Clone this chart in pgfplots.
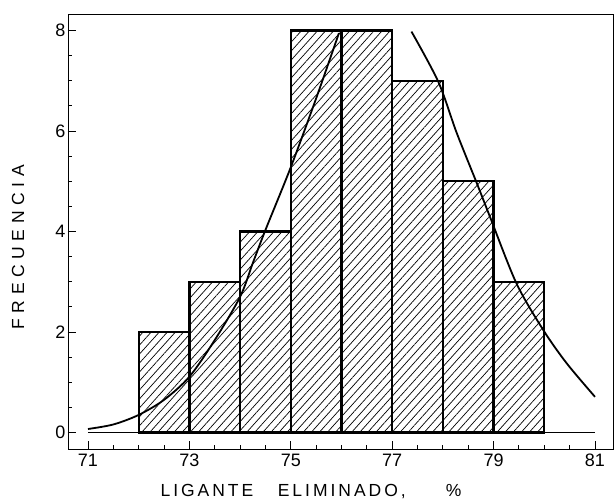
\documentclass[border=0pt]{standalone}
\usepackage{fontspec}
\setmainfont{Liberation Sans}
\newfontfamily\xlabfont[LetterSpace=17]{Liberation Sans}
\newfontfamily\ylabfont[LetterSpace=32]{Liberation Sans}
\usepackage{pgfplots}
\pgfplotsset{compat=1.18}
\usetikzlibrary{patterns.meta}

\begin{document}
\begin{tikzpicture}
\useasboundingbox (-68pt,-50.7pt) rectangle (546pt,449.3pt);
\begin{axis}[
  scale only axis, width=545pt, height=435.3pt,
  at={(0,0)}, anchor=south west,
  xmin=70.606, xmax=81.355, ymin=-0.334, ymax=8.33,
  axis line style={line width=0.9pt},
  xtick={71,73,...,81}, minor xtick={71,71.5,...,81},
  ytick={0,2,...,8}, minor ytick={0,0.5,...,8},
  xtick pos=bottom, ytick pos=left,
  tick align=inside,
  major tick length=8.5pt, minor tick length=4.5pt,
  tick style={line width=0.9pt, black},
  /pgf/number format/assume math mode=true,
  ticklabel style={font=\fontsize{18}{18}\selectfont},
  xticklabel style={yshift=-1pt},
  yticklabel style={xshift=1pt},
  xlabel={\xlabfont LIGANTE\hspace{1.4em}ELIMINADO,\hspace{2.3em}\%},
  xlabel style={at={(axis description cs:0.446,-0.0965)}, anchor=center,
    font=\fontsize{17.5}{17.5}\selectfont},
  ylabel={\ylabfont FRECUENCIA},
  ylabel style={at={(axis description cs:-0.0917,0.464)}, anchor=center,
    font=\fontsize{17.5}{17.5}\selectfont},
]
% zero line
\addplot[line width=1.3pt] coordinates {(71,0) (81,0)};

% frequency histogram, class width 1: hatching first, outlines on top
\addplot[ybar interval, draw=none,
  pattern={Lines[angle=48,distance=6pt,line width=0.7pt]}]
  coordinates {(72,2) (73,3) (74,4) (75,8) (76,8) (77,7) (78,5) (79,3) (80,3)};
\addplot[ybar interval, draw=black, fill=none, line width=2.3pt]
  coordinates {(72,2) (73,3) (74,4) (75,8) (76,8) (77,7) (78,5) (79,3) (80,3)};

% fitted curve, rising branch
\addplot[smooth, line width=1.8pt] coordinates {
  (71.0,0.07) (71.5,0.16) (72.0,0.35) (72.5,0.65) (73.0,1.11)
  (73.5,1.84) (74.0,2.70) (74.25,3.37) (74.5,4.03) (75.0,5.28)
  (75.5,6.65) (75.95,7.95)};

% fitted curve, falling branch
\addplot[smooth, line width=1.8pt] coordinates {
  (77.38,7.98) (77.91,6.98) (78.27,5.97) (78.67,4.96) (78.93,4.29)
  (79.45,2.97) (79.98,2.04) (80.44,1.38) (81.0,0.71)};
\end{axis}
\end{tikzpicture}
\end{document}
